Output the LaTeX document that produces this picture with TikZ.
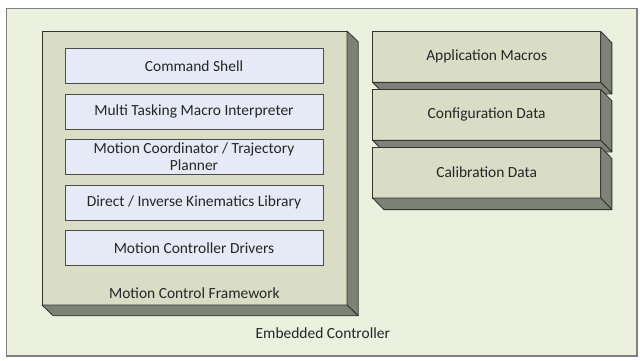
\documentclass[tikz,border=0pt]{standalone}
\usepackage{fontspec}
\setmainfont{Carlito}
\usepackage{tikz}

\definecolor{ecfill}{HTML}{EBF0DF}
\definecolor{slabfill}{HTML}{D9DDC6}
\definecolor{slabside}{HTML}{7E8276}
\definecolor{layerfill}{HTML}{E5EAF6}

\begin{document}
\begin{tikzpicture}[every node/.style={outer sep=0pt, inner sep=0pt, font=\fontsize{11}{12}\selectfont, text=black!85},
  slab/.style={draw=black!80, fill=slabfill, line width=0.6pt},
  side/.style={draw=black!80, fill=slabside, line width=0.6pt, line join=bevel},
  layer/.style={draw=black!70, fill=layerfill, line width=0.6pt, minimum width=6.45cm, minimum height=0.875cm, align=center},
  store/.style={slab, minimum width=5.7cm, minimum height=1.275cm}]
\useasboundingbox (0,0) rectangle (16,9);

% embedded controller
\node[draw=black!50, fill=ecfill, line width=0.8pt, minimum width=15.76cm, minimum height=8.69cm] (ec) at (8.044,4.444) {};
\node (eclabel) at (8.07,0.675) {Embedded Controller};

% motion control framework
\node[slab, minimum width=7.625cm, minimum height=6.85cm] (mcf) at (4.8625,4.8) {};
\filldraw[side] (mcf.north east) -- ++(0.28,-0.27) -- ([shift={(0.28,-0.27)}]mcf.south east) -- (mcf.south east) -- cycle;
\filldraw[side] (mcf.south west) -- (mcf.south east) -- ([shift={(0.28,-0.27)}]mcf.south east) -- ([shift={(0.28,-0.27)}]mcf.south west) -- cycle;
\node (mcflabel) at (4.86,1.675) {Motion Control Framework};

\node[layer] (shell) at (4.85,7.355) {Command Shell};
\node[layer] (interp) at (4.85,6.2125) {Multi Tasking Macro Interpreter};
\node[layer] (coord) at (4.85,5.075) {Motion Coordinator / Trajectory\\Planner};
\node[layer] (kin) at (4.85,3.9375) {Direct / Inverse Kinematics Library};
\node[layer] (drv) at (4.85,2.795) {Motion Controller Drivers};

% data stores
\node[store] (appmac) at (12.1675,7.579) {};
\filldraw[side] (appmac.north east) -- ++(0.28,-0.29) -- ([shift={(0.28,-0.29)}]appmac.south east) -- (appmac.south east) -- cycle;
\filldraw[side] (appmac.south west) -- (appmac.south east) -- ([shift={(0.28,-0.29)}]appmac.south east) -- ([shift={(0.28,-0.29)}]appmac.south west) -- cycle;
\node (appmactext) at (appmac) {Application Macros};

\node[store] (config) at (12.1675,6.129) {};
\filldraw[side] (config.north east) -- ++(0.28,-0.29) -- ([shift={(0.28,-0.29)}]config.south east) -- (config.south east) -- cycle;
\filldraw[side] (config.south west) -- (config.south east) -- ([shift={(0.28,-0.29)}]config.south east) -- ([shift={(0.28,-0.29)}]config.south west) -- cycle;
\node (configtext) at (config) {Configuration Data};

\node[store] (calib) at (12.1675,4.6875) {};
\filldraw[side] (calib.north east) -- ++(0.28,-0.29) -- ([shift={(0.28,-0.29)}]calib.south east) -- (calib.south east) -- cycle;
\filldraw[side] (calib.south west) -- (calib.south east) -- ([shift={(0.28,-0.29)}]calib.south east) -- ([shift={(0.28,-0.29)}]calib.south west) -- cycle;
\node (calibtext) at (calib) {Calibration Data};
\end{tikzpicture}
\end{document}
